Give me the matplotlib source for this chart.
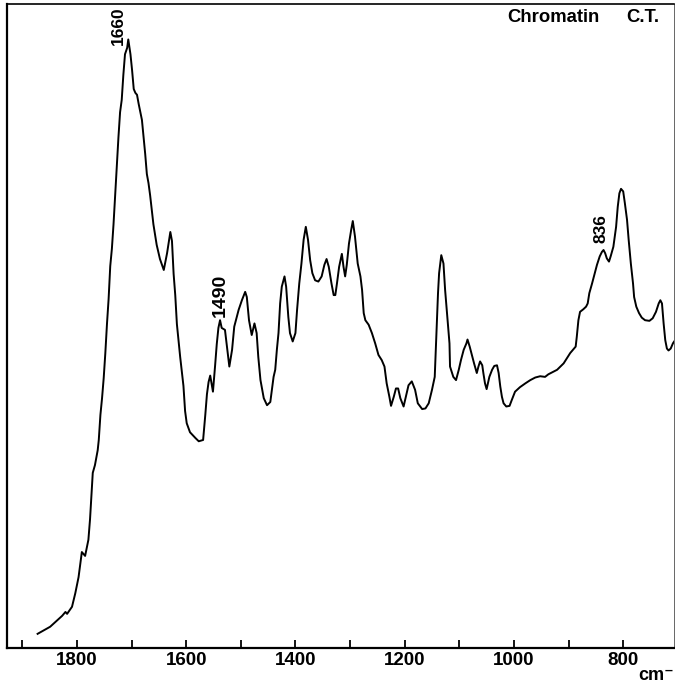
########################################################################
# IR spectrum of chromatin (C.T.) -- redraw of a scanned figure
########################################################################
import matplotlib
matplotlib.use('agg')
import matplotlib.pyplot as plt
import numpy as np

# wavenumber (cm-1) and absorbance (arbitrary units, 0..100)
wn = [1872,1849,1827,1821,1818,1809,1803,1797,1791,1785,1779,1776,1771,1767,1762,1760,1757,1754,1751,1748,
      1745,1742,1739,1736,1733,1730,1727,1724,1721,1718,1715,1712,1708,1706,1702,1699,1696,1693,1690,1687,
      1681,1678,1675,1672,1669,1666,1660,1654,1648,1641,1635,1629,1626,1623,1620,1617,1611,1605,1602,1599,
      1593,1583,1577,1569,1565,1562,1559,1556,1551,1547,1544,1541,1538,1535,
      1529,1521,1516,1512,1504,1498,1492,1489,1485,1480,1475,1471,1468,1464,1458,1452,1446,1440,1437,1434,
      1431,1428,1425,1420,1417,1413,1410,1405,1400,1397,1393,1389,1385,1381,1377,1373,1369,1364,1358,1352,
      1347,1343,1339,1334,1330,1327,1324,1320,1315,1312,1309,1306,1302,1298,1295,1291,1286,1281,1278,1275,
      1272,1266,1260,1254,1248,1242,1237,1233,1228,1225,1220,1216,1212,1208,1202,1198,1193,1187,1181,1176,
      1168,1162,1156,1150,1145,1143,1139,1137,1133,1129,1126,1123,1118,1117,
      1111,1106,1101,1097,1092,1087,1085,1081,1077,1073,1068,1065,1062,1058,1056,1053,1050,1045,1040,1036,
      1031,1028,1025,1022,1019,1014,1008,1004,998,989,979,970,961,952,943,937,928,921,915,909,
      903,897,891,887,885,882,879,873,868,865,862,857,853,848,843,839,836,833,830,826,
      823,818,813,810,807,804,800,797,793,790,786,782,780,776,771,766,760,752,746,740,
      735,732,729,726,723,720,717,713,709,705]
absb = [2.2,3.3,5.0,5.6,5.3,6.4,8.5,11.0,14.9,14.3,16.8,20.0,27.2,28.4,30.7,32.3,36.2,38.8,41.9,45.8,
        50.3,54.2,59.3,62.0,65.8,70.3,74.8,79.3,83.2,85.1,89.0,92.2,93.2,94.5,92.2,89.7,86.8,86.2,85.9,84.5,
        82.0,79.3,76.7,73.6,72.2,70.3,65.8,62.6,60.4,58.7,61.3,64.6,63.2,58.1,54.8,50.3,45.2,40.7,36.8,34.9,
        33.5,32.6,32.1,32.3,36.2,39.4,41.3,42.3,39.8,43.9,47.2,49.7,50.9,49.7,
        49.4,43.7,46.3,49.9,52.5,54.0,55.3,54.5,50.9,48.6,50.4,48.9,45.2,41.6,38.8,37.7,38.2,42.1,43.2,46.3,
        48.9,53.5,56.1,57.7,56.1,51.4,48.9,47.6,48.9,52.5,56.6,59.7,63.4,65.4,63.4,60.2,58.2,57.1,56.9,57.7,
        59.5,60.4,59.2,56.6,54.8,54.8,56.6,59.2,61.2,59.2,57.7,59.5,62.8,64.9,66.3,63.9,59.7,57.7,55.6,52.0,
        50.9,50.2,48.9,47.3,45.5,44.7,43.7,41.1,39.0,37.6,39.0,40.3,40.3,38.8,37.5,39.0,40.8,41.4,40.1,38.0,
        37.1,37.2,38.0,40.1,42.1,46.3,55.1,58.2,61.0,59.7,55.6,52.5,47.3,43.7,
        42.1,41.6,43.2,44.7,46.3,47.3,47.9,46.8,45.5,44.2,42.7,43.7,44.5,43.9,42.7,41.1,40.2,42.1,43.2,43.8,
        43.9,42.7,40.6,39.0,38.0,37.5,37.6,38.5,39.8,40.5,41.1,41.6,42.0,42.2,42.1,42.5,42.9,43.2,43.7,44.2,
        45.0,45.8,46.4,46.8,48.3,50.9,52.2,52.6,53.0,53.5,55.1,56.6,57.9,59.5,60.8,61.5,61.8,61.3,60.5,60.0,
        60.8,62.3,65.4,68.5,70.6,71.3,70.9,69.1,66.5,63.4,59.7,56.6,54.5,53.0,52.0,51.3,50.9,50.8,51.2,52.2,
        53.5,54.0,53.5,50.4,47.8,46.5,46.2,46.5,47.3,47.8]

# peak labels: text, x (cm-1), y (absorbance), size
peak_txt = ['1660', '1490', '836']
peak_x = [1724, 1538, 840]
peak_y = [96.6, 54.8, 65.1]
peak_fs = [12.5, 14, 12.5]

tick_major = [1800, 1600, 1400, 1200, 1000, 800]
tick_minor = [1900, 1700, 1500, 1300, 1100, 900]

fnt = ['Liberation Sans Narrow', 'Liberation Sans', 'DejaVu Sans']
fnt2 = ['Liberation Sans', 'DejaVu Sans']

fig = plt.figure(figsize=(6.75, 6.86), dpi=100)
ax = fig.add_axes([7/675, 38/686, 667/675, 644/686])

ax.plot(wn, absb, color='black', lw=1.4)

ax.set_xlim(1928, 707)
ax.set_ylim(0, 100)
ax.set_yticks([])

ax.set_xticks(tick_major)
ax.set_xticks(tick_minor, minor=True)
ax.set_xticklabels([str(t) for t in tick_major], family=fnt, fontweight='bold', fontsize=13.5)
ax.tick_params(axis='x', which='both', direction='in', length=6, width=1.3, pad=3)

for s in ['left', 'bottom']:
    ax.spines[s].set_linewidth(1.6)
ax.spines['top'].set_linewidth(1.2)
ax.spines['right'].set_linewidth(0.7)
ax.spines['right'].set_color('#666666')

for t, x, y, fs in zip(peak_txt, peak_x, peak_y, peak_fs):
    ax.text(x, y, t, rotation=90, ha='center', va='center', family=fnt,
            fontweight='bold', fontsize=fs)

# title in two pieces, as on the original sheet
fig.text(507/675, 1 - 18/686, 'Chromatin', ha='left', va='center',
         family=fnt2, fontweight='bold', fontsize=13.3)
fig.text(626/675, 1 - 18/686, 'C.T.', ha='left', va='center',
         family=fnt2, fontweight='bold', fontsize=13.3)

fig.text(638/675, 1 - 684/686, 'cm\u207b', ha='left', va='bottom',
         family=fnt2, fontweight='bold', fontsize=13)

fig.savefig('out.png', dpi=100)
